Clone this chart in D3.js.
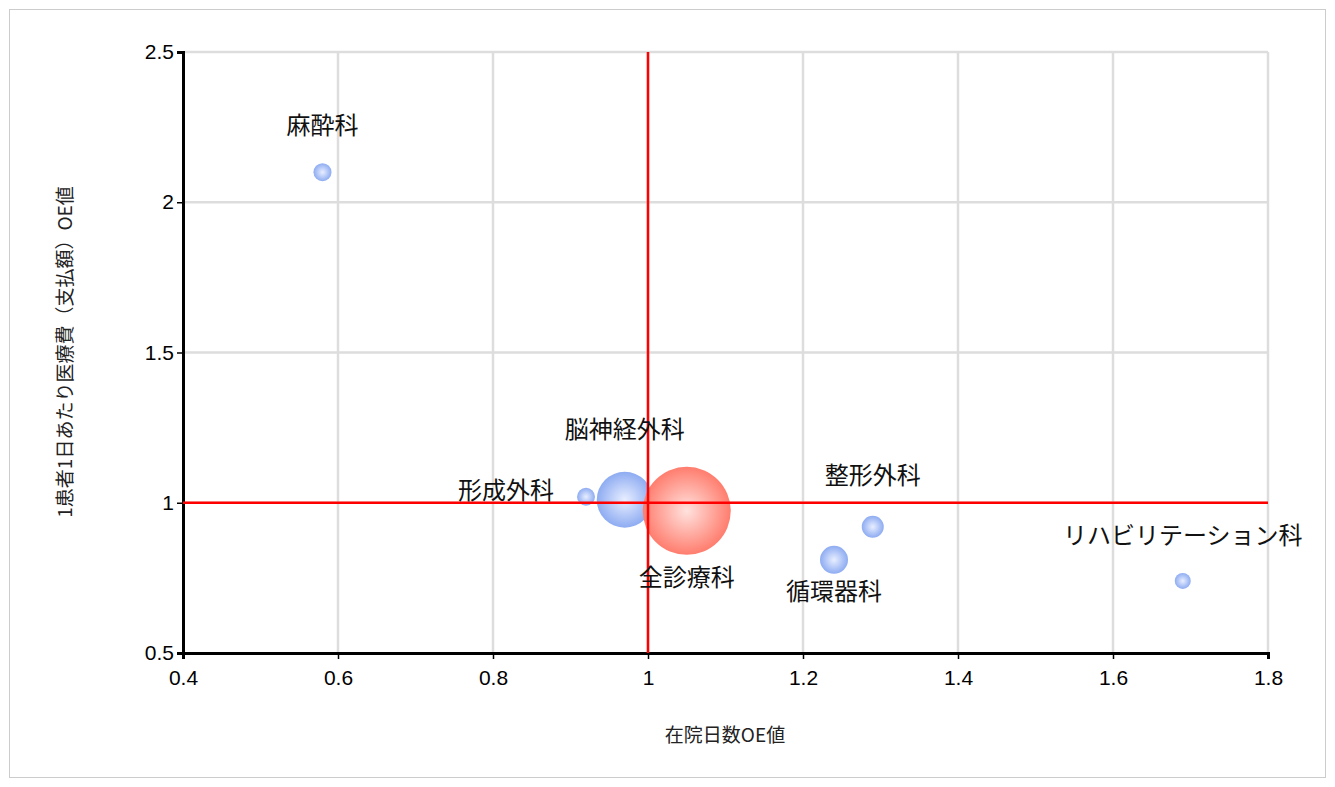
<!DOCTYPE html>
<html>
<head>
<meta charset="utf-8">
<script src="https://cdn.jsdelivr.net/npm/d3@7"></script>
<style>
body { margin:0; background:#fff; font-family:"Noto Sans CJK JP","Noto Sans",sans-serif; }
</style>
</head>
<body>
<svg id="chart" width="1335" height="787"></svg>
<script>
var names = ["麻酔科","形成外科","脳神経外科","全診療科","整形外科","循環器科","リハビリテーション科"];
var xVals = [0.58, 0.92, 0.97, 1.05, 1.29, 1.24, 1.69];
var yVals = [2.10, 1.02, 1.01, 0.973, 0.92, 0.81, 0.74];
var sizes = [9, 9, 28, 44, 11, 14, 8];
var labelDx = [0, -80, 0, 0, 0, 0, 0];
var labelDy = [-45, -4, -68, 69, -49, 34, -43];
var xTicks = [0.4,0.6,0.8,1,1.2,1.4,1.6,1.8];
var yTicks = [0.5,1,1.5,2,2.5];

var svg = d3.select("#chart");
svg.append("rect").attr("x",9.5).attr("y",9.5).attr("width",1316).attr("height",768)
  .attr("fill","none").attr("stroke","#ccc");

var x = d3.scaleLinear().domain([0.4,1.8]).range([183,1268]);
var y = d3.scaleLinear().domain([0.5,2.5]).range([653,52]);

var defs = svg.append("defs");
function grad(id, c0, c1) {
  var g = defs.append("radialGradient").attr("id",id).attr("cx","50%").attr("cy","50%").attr("r","50%");
  g.append("stop").attr("offset","0%").attr("stop-color",c0);
  g.append("stop").attr("offset","100%").attr("stop-color",c1);
}
grad("gb","#e8eeff","#8eacf2");
grad("gr","#ffe2de","#ff7d6e");

// grid
svg.append("g").selectAll("line").data(xTicks.slice(1)).join("line")
  .attr("x1",d=>x(d)).attr("x2",d=>x(d)).attr("y1",52).attr("y2",653)
  .attr("stroke","#ddd").attr("stroke-width",2.5);
svg.append("g").selectAll("line").data(yTicks.slice(1)).join("line")
  .attr("x1",183).attr("x2",1268).attr("y1",d=>y(d)).attr("y2",d=>y(d))
  .attr("stroke","#ddd").attr("stroke-width",2.5);

var xa = svg.append("g").attr("transform","translate(0,653)")
  .call(d3.axisBottom(x).tickValues(xTicks).tickFormat(d3.format("")).tickSize(6));
var ya = svg.append("g").attr("transform","translate(183,0)")
  .call(d3.axisLeft(y).tickValues(yTicks).tickFormat(d3.format("")).tickSize(6));
[xa,ya].forEach(function(a){
  a.select(".domain").attr("stroke","#000").attr("stroke-width",3);
  a.selectAll(".tick line").attr("stroke","#000").attr("stroke-width",1.5);
  a.selectAll("text").attr("font-size",21).attr("fill","#000").attr("font-family","Liberation Sans, Arial, sans-serif");
});
xa.selectAll("text").attr("dy","1.1em");

// bubbles
var idx = d3.range(names.length);
svg.append("g").selectAll("circle").data(idx).join("circle")
  .attr("cx",i=>x(xVals[i])).attr("cy",i=>y(yVals[i])).attr("r",i=>sizes[i])
  .attr("fill",i=>names[i]==="全診療科" ? "url(#gr)" : "url(#gb)");

// reference lines
svg.append("line").attr("x1",x(1)).attr("x2",x(1)).attr("y1",52).attr("y2",653)
  .attr("stroke","#f00").attr("stroke-width",2.5);
svg.append("line").attr("x1",183).attr("x2",1268).attr("y1",y(1)).attr("y2",y(1))
  .attr("stroke","#f00").attr("stroke-width",2.5);

svg.append("g").selectAll("text").data(idx).join("text")
  .attr("x",i=>x(xVals[i])+labelDx[i]).attr("y",i=>y(yVals[i])+labelDy[i])
  .attr("text-anchor","middle").attr("dominant-baseline","middle")
  .attr("font-size",24).attr("fill","#111").text(i=>names[i]);

svg.append("text").attr("x",725).attr("y",742).attr("text-anchor","middle")
  .attr("font-size",19).attr("fill","#222").text("在院日数OE値");
svg.append("text").attr("transform","translate(72,352) rotate(-90)").attr("text-anchor","middle")
  .attr("font-size",19).attr("fill","#222").text("1患者1日あたり医療費（支払額）OE値");
</script>
</body>
</html>
